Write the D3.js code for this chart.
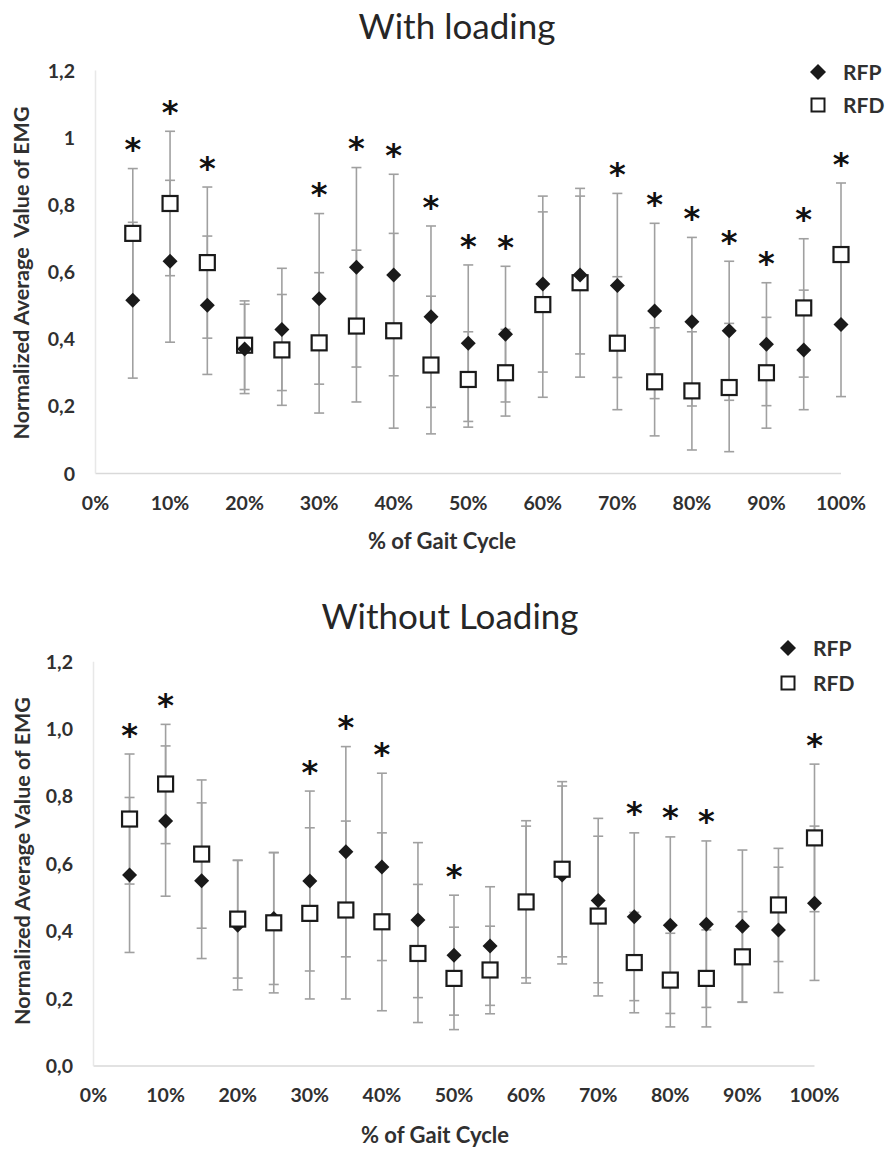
<!DOCTYPE html>
<html>
<head>
<meta charset="utf-8">
<script src="https://cdn.jsdelivr.net/npm/d3@7"></script>
<style>
  html, body { margin: 0; padding: 0; background: #fff; }
  svg { display: block; }
  text { font-family: Lato, "Open Sans", sans-serif; }
  text.sig { font-family: "DejaVu Sans", sans-serif; }
</style>
</head>
<body>
<svg id="chart" width="887" height="1149"></svg>
<script>
// ---------- data ----------
const gaitPct = [5, 10, 15, 20, 25, 30, 35, 40, 45, 50, 55, 60, 65, 70, 75, 80, 85, 90, 95, 100];
const xTickValues = [0, 10, 20, 30, 40, 50, 60, 70, 80, 90, 100];
const xTickLabels = ["0%", "10%", "20%", "30%", "40%", "50%", "60%", "70%", "80%", "90%", "100%"];
const yTickValues = [0, 0.2, 0.4, 0.6, 0.8, 1.0, 1.2];
const yTickLabelsLoad = ["0", "0,2", "0,4", "0,6", "0,8", "1", "1,2"];
const yTickLabelsNoLoad = ["0,0", "0,2", "0,4", "0,6", "0,8", "1,0", "1,2"];
const seriesNames = ["RFP", "RFD"];

// With loading
const loadRFP   = [0.516, 0.632, 0.501, 0.371, 0.429, 0.520, 0.614, 0.591, 0.467, 0.388, 0.415, 0.564, 0.591, 0.560, 0.484, 0.452, 0.425, 0.385, 0.368, 0.444];
const loadRFPsd = [0.232, 0.241, 0.206, 0.133, 0.182, 0.254, 0.297, 0.300, 0.270, 0.233, 0.202, 0.262, 0.235, 0.274, 0.261, 0.251, 0.207, 0.183, 0.178, 0.215];
const loadRFD   = [0.715, 0.804, 0.628, 0.382, 0.368, 0.389, 0.439, 0.425, 0.323, 0.280, 0.300, 0.503, 0.568, 0.388, 0.273, 0.246, 0.256, 0.300, 0.493, 0.652];
const loadRFDsd = [0.193, 0.215, 0.225, 0.132, 0.165, 0.209, 0.226, 0.290, 0.205, 0.142, 0.129, 0.276, 0.281, 0.198, 0.161, 0.176, 0.191, 0.165, 0.206, 0.213];
const loadSig   = [1, 1, 1, 0, 0, 1, 1, 1, 1, 1, 1, 0, 0, 1, 1, 1, 1, 1, 1, 1];

// Without loading
const noLoadRFP   = [0.567, 0.727, 0.550, 0.418, 0.438, 0.549, 0.636, 0.591, 0.433, 0.329, 0.356, 0.487, 0.567, 0.491, 0.443, 0.418, 0.421, 0.415, 0.404, 0.483];
const noLoadRFPsd = [0.230, 0.223, 0.231, 0.192, 0.196, 0.267, 0.312, 0.278, 0.230, 0.178, 0.176, 0.225, 0.264, 0.244, 0.249, 0.262, 0.247, 0.226, 0.186, 0.229];
const noLoadRFD   = [0.733, 0.837, 0.629, 0.436, 0.425, 0.453, 0.463, 0.428, 0.334, 0.260, 0.285, 0.487, 0.584, 0.445, 0.307, 0.255, 0.260, 0.324, 0.478, 0.677];
const noLoadRFDsd = [0.193, 0.177, 0.220, 0.175, 0.208, 0.254, 0.264, 0.264, 0.205, 0.152, 0.130, 0.241, 0.260, 0.237, 0.149, 0.139, 0.144, 0.134, 0.168, 0.219];
const noLoadSig   = [1, 1, 0, 0, 0, 1, 1, 1, 0, 1, 0, 0, 0, 0, 1, 1, 1, 0, 0, 1];

// ---------- drawing ----------
const svg = d3.select("#chart");
const TXT = "#303030";
const BAR = "#a0a0a0";
const AXIS = "#d9d9d9";

function drawPanel(p) {
  const g = svg.append("g");
  const x = d3.scaleLinear().domain([0, 100]).range([p.x0, p.x1]);
  const y = d3.scaleLinear().domain([0, 1.2]).range([p.y0, p.y1]);

  // title
  g.append("text").attr("x", p.titleX).attr("y", p.titleY)
    .attr("text-anchor", "middle").attr("font-size", 35).attr("fill", "#262626")
    .text(p.title);

  // axis lines
  g.append("line").attr("x1", x(0)).attr("x2", x(100)).attr("y1", y(0)).attr("y2", y(0))
    .attr("stroke", AXIS).attr("stroke-width", 1.5);
  g.append("line").attr("x1", x(0)).attr("x2", x(0)).attr("y1", y(0)).attr("y2", y(1.2))
    .attr("stroke", "#e8e8e8").attr("stroke-width", 1.5);

  // y tick labels
  g.selectAll(".ytl").data(yTickValues).enter().append("text")
    .attr("x", p.yLabelX).attr("y", d => y(d)).attr("dy", "0.36em")
    .attr("text-anchor", "end").attr("font-size", 19.5).attr("font-weight", 700).attr("fill", TXT)
    .text((d, i) => p.yLabels[i]);

  // x tick labels
  g.selectAll(".xtl").data(xTickValues).enter().append("text")
    .attr("x", d => x(d)).attr("y", p.xLabelY)
    .attr("text-anchor", "middle").attr("font-size", 19.5).attr("font-weight", 700).attr("fill", TXT)
    .text((d, i) => xTickLabels[i]);

  // axis titles
  g.append("text").attr("x", p.xTitleX).attr("y", p.xTitleY)
    .attr("text-anchor", "middle").attr("font-size", 22).attr("font-weight", 700).attr("fill", TXT)
    .text("% of Gait Cycle");
  g.append("text")
    .attr("transform", `translate(${p.yTitleX},${p.yTitleY}) rotate(-90)`)
    .attr("text-anchor", "middle").attr("font-size", 21.5).attr("font-weight", 700).attr("fill", TXT)
    .style("white-space", "pre")
    .text(p.yTitle);

  const series = [
    { name: "RFP", mean: p.rfp, sd: p.rfpSd },
    { name: "RFD", mean: p.rfd, sd: p.rfdSd }
  ];

  // error bars
  const capW = 5;
  series.forEach(s => {
    const eb = g.append("g").attr("stroke", BAR).attr("stroke-width", 1.6).attr("fill", "none");
    gaitPct.forEach((pc, i) => {
      const hi = y(s.mean[i] + s.sd[i]), lo = y(s.mean[i] - s.sd[i]), cx = x(pc);
      eb.append("line").attr("x1", cx).attr("x2", cx).attr("y1", hi).attr("y2", lo);
      eb.append("line").attr("x1", cx - capW).attr("x2", cx + capW).attr("y1", hi).attr("y2", hi);
      eb.append("line").attr("x1", cx - capW).attr("x2", cx + capW).attr("y1", lo).attr("y2", lo);
    });
  });

  const diamond = (cx, cy, r) => `M${cx},${cy - r}L${cx + r},${cy}L${cx},${cy + r}L${cx - r},${cy}Z`;
  function drawRFP() {
    g.append("g").selectAll("path").data(gaitPct).enter().append("path")
      .attr("d", (pc, i) => diamond(x(pc), y(p.rfp[i]), 7.5))
      .attr("fill", "#1a1a1a");
  }
  function drawRFD() {
    const s = 15;
    g.append("g").selectAll("rect").data(gaitPct).enter().append("rect")
      .attr("x", pc => x(pc) - s / 2).attr("y", (pc, i) => y(p.rfd[i]) - s / 2)
      .attr("width", s).attr("height", s)
      .attr("fill", "#fff").attr("stroke", "#1a1a1a").attr("stroke-width", 2.2);
  }
  if (p.rfdFirst) { drawRFD(); drawRFP(); } else { drawRFP(); drawRFD(); }

  // significance asterisks
  gaitPct.forEach((pc, i) => {
    if (!p.sig[i]) return;
    const top = Math.max(p.rfp[i] + p.rfpSd[i], p.rfd[i] + p.rfdSd[i]);
    g.append("text").attr("class", "sig").attr("x", x(pc)).attr("y", y(top) - 27).attr("dy", "0.58em")
      .attr("text-anchor", "middle").attr("font-size", 32).attr("font-weight", 700)
      .attr("fill", "#111")
      .text("*");
  });

  // legend
  const lg = g.append("g");
  lg.append("path").attr("d", diamond(p.legX, p.legY, 8)).attr("fill", "#1a1a1a");
  lg.append("rect").attr("x", p.legX - 6.5).attr("y", p.legY + p.legGap - 6.5).attr("width", 13).attr("height", 13)
    .attr("fill", "#fff").attr("stroke", "#1a1a1a").attr("stroke-width", 2);
  seriesNames.forEach((nm, i) => {
    lg.append("text").attr("x", p.legX + 25).attr("y", p.legY + i * p.legGap).attr("dy", "0.36em")
      .attr("font-size", 21).attr("font-weight", 700).attr("fill", TXT).text(nm);
  });
}

drawPanel({
  title: "With loading", titleX: 457, titleY: 39,
  x0: 95.5, x1: 841, y0: 473.5, y1: 70.5,
  yLabels: yTickLabelsLoad, yLabelX: 75, xLabelY: 510, xTitleX: 442, xTitleY: 549,
  yTitle: "Normalized Average  Value of EMG", yTitleX: 29, yTitleY: 273,
  rfp: loadRFP, rfpSd: loadRFPsd, rfd: loadRFD, rfdSd: loadRFDsd, sig: loadSig,
  rfdFirst: true, legX: 818, legY: 72, legGap: 33
});

drawPanel({
  title: "Without Loading", titleX: 450, titleY: 629,
  x0: 93.5, x1: 814.5, y0: 1066, y1: 661.7,
  yLabels: yTickLabelsNoLoad, yLabelX: 73, xLabelY: 1102, xTitleX: 435, xTitleY: 1143,
  yTitle: "Normalized Average Value of EMG", yTitleX: 30, yTitleY: 861,
  rfp: noLoadRFP, rfpSd: noLoadRFPsd, rfd: noLoadRFD, rfdSd: noLoadRFDsd, sig: noLoadSig,
  rfdFirst: false, legX: 788, legY: 648, legGap: 35
});
</script>
</body>
</html>
